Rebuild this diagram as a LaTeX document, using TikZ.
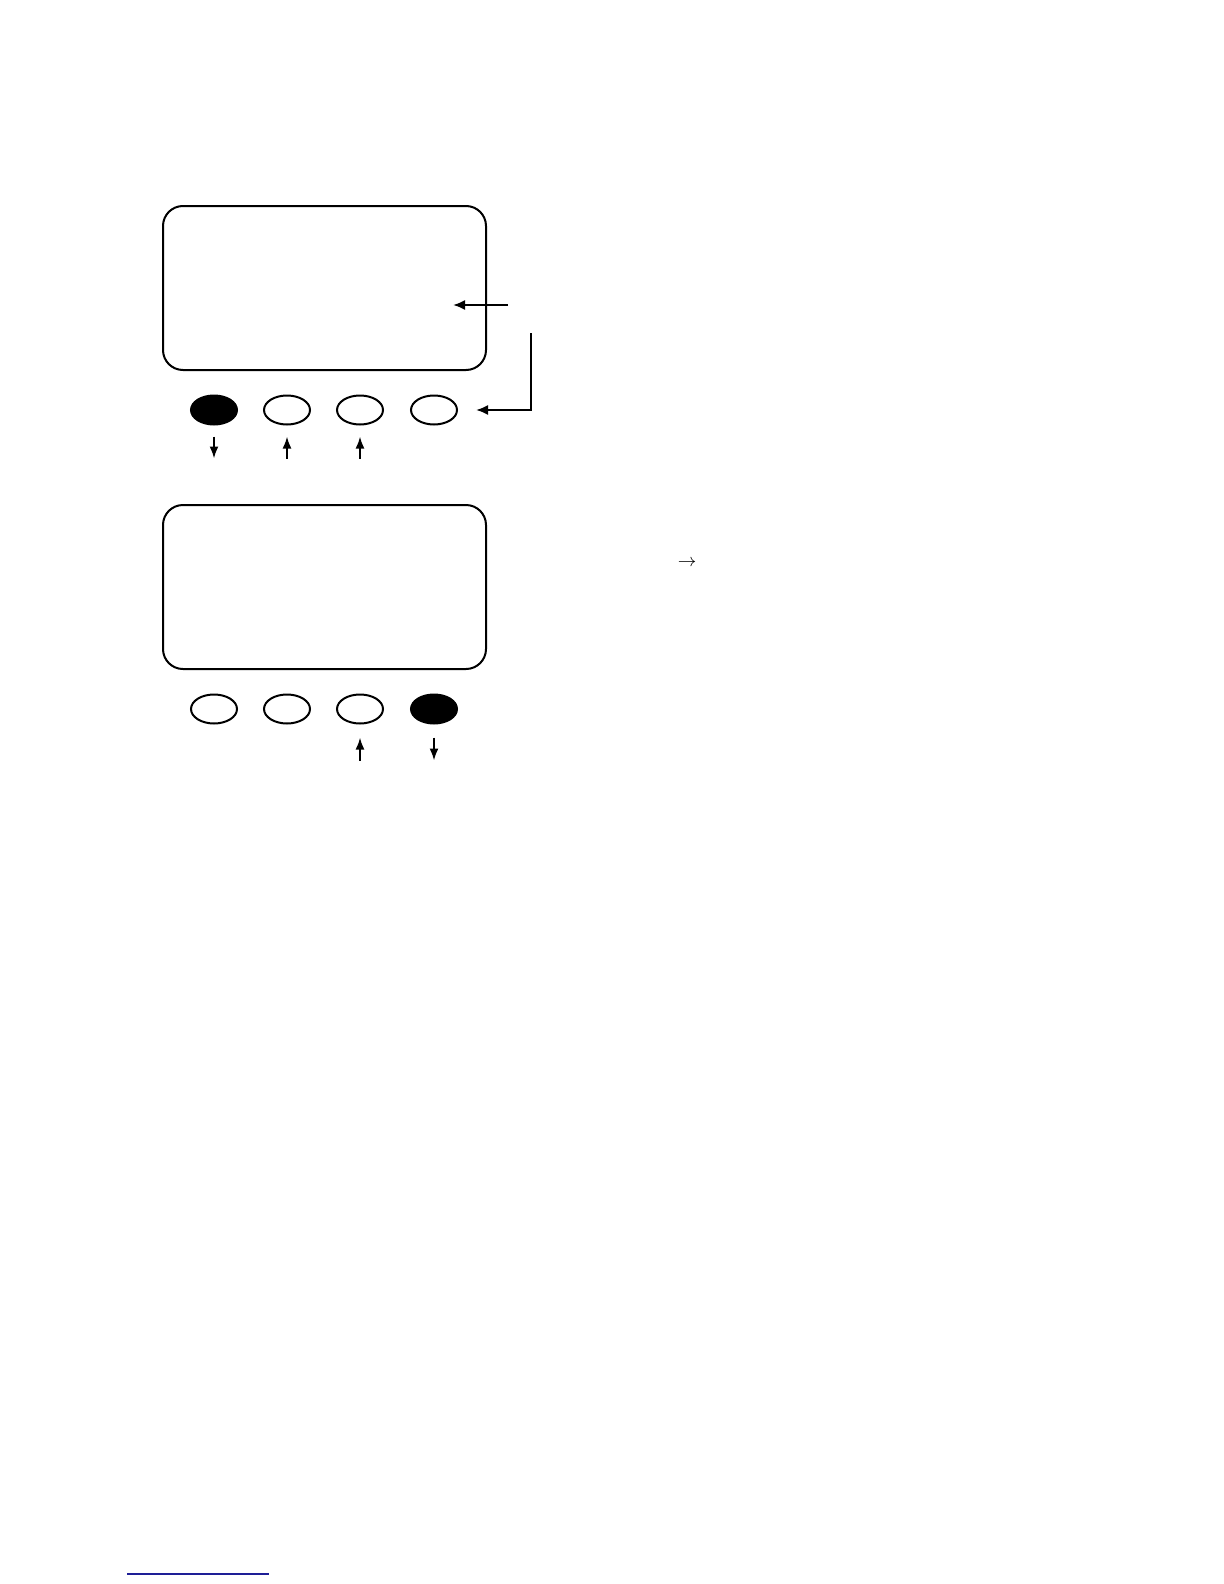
\documentclass[tikz,border=0pt]{standalone}
\usetikzlibrary{shapes.geometric,arrows.meta,positioning}
\definecolor{linkblue}{RGB}{30,30,150}
\tikzset{
  screen/.style={draw, line width=1pt, rounded corners=10pt, minimum width=161.5pt, minimum height=82pt},
  key/.style={draw, line width=1pt, ellipse, minimum width=23pt, minimum height=14.5pt, inner sep=0pt},
  pressed/.style={key, fill=black},
  pointer/.style={line width=1pt, -{Latex[length=6pt,width=5pt]}},
  tick/.style={line width=1pt, -{Latex[length=6pt,width=4.5pt]}}
}
\begin{document}
\begin{tikzpicture}[x=0.5pt,y=-0.5pt]
	\useasboundingbox (0,0) rectangle (1224,1584);

	% first display
	\node[screen]  (s1) at (324.5,288) {};
	\node[pressed] (b1) at (214,410) {};
	\node[key]     (b2) at (287,410) {};
	\node[key]     (b3) at (360,410) {};
	\node[key]     (b4) at (434,410) {};

	\draw[tick] ([yshift=-5.5pt]b1.south) -- ([yshift=-16.5pt]b1.south);
	\draw[tick] ([yshift=-16.5pt]b2.south) -- ([yshift=-5.5pt]b2.south);
	\draw[tick] ([yshift=-16.5pt]b3.south) -- ([yshift=-5.5pt]b3.south);

	\coordinate (p1) at (508,305);
	\coordinate (t1) at (453,305);
	\draw[pointer] (p1) -- (t1);
	\coordinate (p2) at (531,333);
	\draw[pointer] (p2) |- ([xshift=9pt]b4.east);

	% second display
	\node[screen]  (s2) at (324.5,587) {};
	\node[key]     (c1) at (214,709) {};
	\node[key]     (c2) at (287,709) {};
	\node[key]     (c3) at (360,709) {};
	\node[pressed] (c4) at (434,709) {};

	\draw[tick] ([yshift=-18pt]c3.south) -- ([yshift=-6.5pt]c3.south);
	\draw[tick] ([yshift=-6.5pt]c4.south) -- ([yshift=-18pt]c4.south);

	\node[font=\small] (arr) at (687,563) {$\rightarrow$};

	\draw[linkblue, line width=0.6pt] (127,1574) -- (269,1574);
\end{tikzpicture}
\end{document}
